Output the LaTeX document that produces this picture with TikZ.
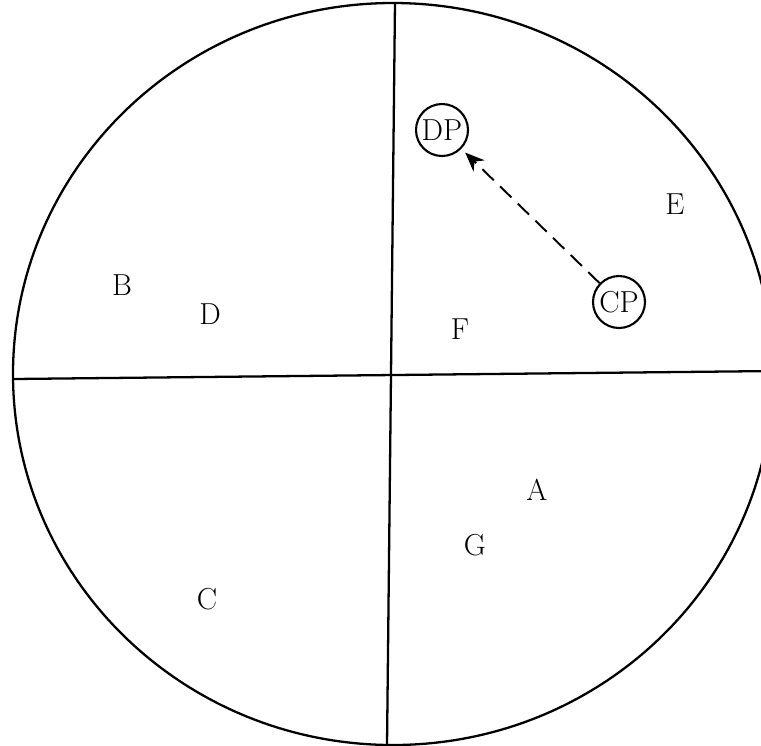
\documentclass[tikz,border=0pt]{standalone}
\usepackage{tikz}
\usetikzlibrary{arrows.meta, positioning, calc}

\tikzset{
    lbl/.style={font=\LARGE, inner sep=1pt},
    ptcircle/.style={draw, circle, line width=1.2pt, minimum size=1.04cm, inner sep=0pt, font=\LARGE},
}

\begin{document}
\begin{tikzpicture}[x=0.02cm, y=-0.02cm, line width=1.3pt]
        \useasboundingbox (0,0) rectangle (761,745);
        \clip (0,0) rectangle (761,745);

        % Outer circle
        \draw (393,374) ellipse [x radius=380, y radius=371];

        % Quadrant lines
        \coordinate (top) at (395,2);
        \coordinate (bot) at (387,746);
        \coordinate (lft) at (13,379);
        \coordinate (rgt) at (775,371);
        \draw (top) -- (bot);
        \draw (lft) -- (rgt);

        % Labels
        \node[lbl] (B) at (122,285) {B};
        \node[lbl] (D) at (210,314) {D};
        \node[lbl] (F) at (460,329) {F};
        \node[lbl] (E) at (675,204) {E};
        \node[lbl] (A) at (537,490) {A};
        \node[lbl] (G) at (475,545) {G};
        \node[lbl] (C) at (207,599) {C};

        % Points and shift
        \node[ptcircle] (DP) at (442,130) {DP};
        \node[ptcircle] (CP) at (619,302) {CP};
        \draw[dashed, dash pattern=on 9pt off 5pt, line width=1.1pt, -{Stealth[length=11pt, width=9pt]}, shorten >=3pt] (CP) -- (DP);
    \end{tikzpicture}
\end{document}
